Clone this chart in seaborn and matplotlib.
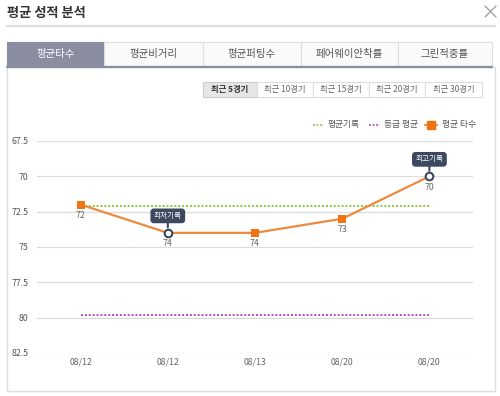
import numpy as np
import pandas as pd
import matplotlib
matplotlib.use("Agg")
import matplotlib.pyplot as plt
import matplotlib.patches as mpatches
from matplotlib.lines import Line2D
import seaborn as sns

# data
dates = ["08/12", "08/12", "08/13", "08/20", "08/20"]
scores = [72, 74, 74, 73, 70]
avg_record = 72.1     # 평균기록
grade_avg = 79.8      # 등급 평균
y_ticks = [67.5, 70, 72.5, 75, 77.5, 80, 82.5]
tabs = ["평균타수", "평균비거리", "평균퍼팅수", "페어웨이안착률", "그린적중률"]
tab_edges = [7, 104, 203, 301, 398, 492]
buttons = ["최근 5경기", "최근 10경기", "최근 15경기", "최근 20경기", "최근 30경기"]
btn_edges = [203, 257, 313, 369, 425, 482]

W, H = 500, 396
sns.set_style("white")
plt.rcParams['font.family'] = ['Noto Sans CJK KR', 'DejaVu Sans']

fig = plt.figure(figsize=(W / 100, H / 100), dpi=100)
fig.patch.set_facecolor("white")


def fx(x):
    return x / W


def fy(y):
    return 1 - y / H


def rect(x0, y0, x1, y1, **kw):
    fig.patches.append(mpatches.Rectangle((fx(x0), fy(y1)), (x1 - x0) / W, (y1 - y0) / H,
                                          transform=fig.transFigure, **kw))


def hline(x0, x1, y, **kw):
    fig.lines.append(Line2D([fx(x0), fx(x1)], [fy(y), fy(y)], transform=fig.transFigure, **kw))


# header
fig.text(fx(7), fy(13), "평균 성적 분석", fontsize=9.5, color="#333333", va="center", ha="left",
         fontweight="bold")
fig.lines.append(Line2D([fx(485), fx(496)], [fy(6), fy(17)], transform=fig.transFigure, color="#999999", lw=0.9))
fig.lines.append(Line2D([fx(485), fx(496)], [fy(17), fy(6)], transform=fig.transFigure, color="#999999", lw=0.9))
hline(7, 495, 26, color="#dddddd", lw=1.6)

# content panel
rect(7, 67, 495, 391, facecolor="none", edgecolor="#dddddd", lw=1)

# tabs
for i, t in enumerate(tabs):
    x0, x1 = tab_edges[i], tab_edges[i + 1]
    if i == 0:
        rect(x0, 42, x1, 66, facecolor="#8a8da0", edgecolor="#8a8da0", lw=0.8)
        fig.text(fx((x0 + x1) / 2), fy(54), t, fontsize=7.5, color="white", ha="center", va="center")
    else:
        rect(x0, 42, x1, 66, facecolor="#fafafa", edgecolor="#dedede", lw=0.8)
        fig.text(fx((x0 + x1) / 2), fy(54), t, fontsize=7.5, color="#555555", ha="center", va="center")
hline(7, 492, 66.5, color="#8a8da0", lw=1.6)

# period buttons
for i, b in enumerate(buttons):
    x0, x1 = btn_edges[i], btn_edges[i + 1]
    if i == 0:
        rect(x0, 82, x1, 97, facecolor="#e6e6e6", edgecolor="#cccccc", lw=0.8)
        fig.text(fx((x0 + x1) / 2), fy(89.5), b, fontsize=6, color="#333333", ha="center", va="center",
                 fontweight="bold")
    else:
        rect(x0, 82, x1, 97, facecolor="white", edgecolor="#dddddd", lw=0.8)
        fig.text(fx((x0 + x1) / 2), fy(89.5), b, fontsize=6, color="#666666", ha="center", va="center")

# legend
green = "#8cc63f"
purple = "#b04cc0"
orange = "#ec8a3e"
navy = "#3c4760"
hline(313, 324, 125, color=green, lw=1.3, ls=(0, (1, 1)))
fig.text(fx(328), fy(125), "평균기록", fontsize=6.3, color="#555555", va="center")
hline(369, 380, 125, color=purple, lw=1.3, ls=(0, (1, 1)))
fig.text(fx(384), fy(125), "등급 평균", fontsize=6.3, color="#555555", va="center")
hline(425, 437, 125, color=orange, lw=1.5)
fig.lines.append(Line2D([fx(431)], [fy(125)], transform=fig.transFigure, lw=0, marker="s",
                        markersize=5.5, markerfacecolor="#f07414", markeredgecolor="#f07414"))
fig.text(fx(442), fy(125), "평균 타수", fontsize=6.3, color="#555555", va="center")

# chart area
ax = fig.add_axes([fx(37), fy(353), 436 / W, 212 / H])
ax.set_facecolor("none")
df = pd.DataFrame({"pos": np.arange(len(scores)), "score": scores, "date": dates})

for v in y_ticks:
    ax.axhline(v, color="#dcdcdc", lw=0.9, zorder=0)

ax.plot([0, len(scores) - 1], [avg_record, avg_record], color=green, lw=1.4, ls=(0, (1, 1)), zorder=2)
ax.plot([0, len(scores) - 1], [grade_avg, grade_avg], color=purple, lw=1.4, ls=(0, (1, 1)), zorder=2)

sns.lineplot(data=df, x="pos", y="score", color=orange, lw=1.6, ax=ax, zorder=3)

lo = int(np.argmax(scores))   # lowest record (largest strokes)
hi = int(np.argmin(scores))   # best record
sq = [i for i in range(len(scores)) if i not in (lo, hi)]
ax.scatter(df.pos[sq], df.score[sq], marker="s", s=30, color="#f07414", zorder=4, linewidths=0)
ax.scatter(df.pos[[lo, hi]], df.score[[lo, hi]], marker="o", s=30, facecolor="white",
           edgecolor=navy, linewidths=1.5, zorder=5)

for i, s in enumerate(scores):
    ax.annotate(str(s), (i, s), xytext=(0, -11), textcoords="offset pixels", ha="center", va="center",
                fontsize=6.3, color="#666666")

for i, lab in [(lo, "최저기록"), (hi, "최고기록")]:
    ax.annotate(lab, (i, scores[i]), xytext=(0, 17), textcoords="offset pixels", ha="center", va="center",
                fontsize=5.5, color="white", zorder=6,
                bbox=dict(boxstyle="round,pad=0.35", fc=navy, ec=navy),
                arrowprops=dict(arrowstyle="-", color=navy, lw=1.5, shrinkA=0, shrinkB=4))

ax.set_ylim(82.5, 67.5)
ax.set_xlim(-0.5, len(scores) - 0.5)
ax.set_yticks(y_ticks)
ax.set_yticklabels([f"{v:g}" for v in y_ticks])
ax.set_xticks(df.pos)
ax.set_xticklabels(dates)
ax.set_xticks(np.arange(len(scores)) + 0.5, minor=True)
ax.tick_params(axis="x", which="major", length=0, labelsize=6.3, colors="#666666", pad=3)
ax.tick_params(axis="x", which="minor", length=3, color="#cccccc", width=0.8, direction="out")
ax.tick_params(axis="y", length=0, labelsize=6.3, colors="#555555", pad=6)
ax.set_xlabel("")
ax.set_ylabel("")
for side in ["top", "right", "left", "bottom"]:
    ax.spines[side].set_visible(False)
ax.grid(False)

fig.savefig("out.png", dpi=100)
